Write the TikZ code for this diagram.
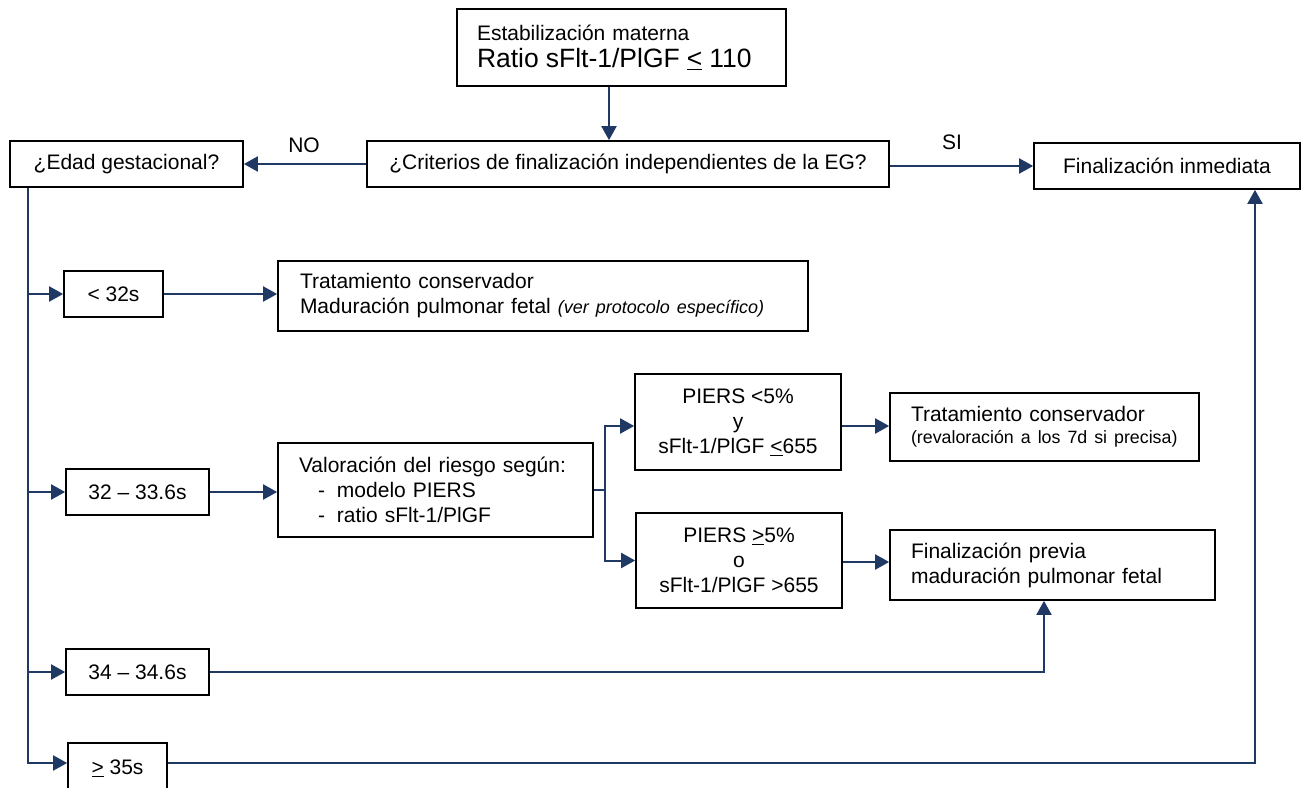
\documentclass[tikz,border=0pt]{standalone}
\usepackage{fontspec}
\setmainfont{Liberation Sans}
\usetikzlibrary{arrows.meta}
\definecolor{navy}{HTML}{1F3864}
\tikzset{
  box/.style={draw=black, line width=1.7pt, inner sep=0pt, align=center,
              font=\fontsize{21}{25}\selectfont},
  lbox/.style={box, align=left},
  conn/.style={draw=navy, line width=2pt},
  arr/.style={conn, -{Triangle[length=14pt,width=15pt]}},
  lbl/.style={inner sep=0pt, font=\fontsize{21}{25}\selectfont},
}
\begin{document}
\begin{tikzpicture}[x=1pt,y=-1pt]
\useasboundingbox (0,0) rectangle (1306,787);
\clip (0,0) rectangle (1306,787);

% nodes
\node[lbox, inner xsep=20pt, text width=289pt, minimum height=77pt] (top) at (621.5,47.5)
  {Estabilización materna\\[2pt]{\fontsize{26.5}{30}\selectfont Ratio sFlt-1/PlGF \underline{<} 110}};
\node[box, minimum width=522pt, minimum height=46pt] (crit) at (628,164)
  {¿Criterios de finalización independientes de la EG?};
\node[box, minimum width=233pt, minimum height=46pt] (edad) at (126.5,164)
  {¿Edad gestacional?};
\node[box, minimum width=266pt, minimum height=46pt] (finimm) at (1167,166)
  {Finalización inmediata};

\node[box, minimum width=99pt, minimum height=46pt] (lt32) at (113.5,294) {< 32s};
\node[lbox, inner xsep=22pt, text width=486pt, minimum height=70pt] (trat1) at (543,296)
  {Tratamiento conservador\\Maduración pulmonar fetal {\fontsize{18}{22}\selectfont\itshape (ver protocolo específico)}};

\node[box, minimum width=143pt, minimum height=46pt] (r3233) at (137.5,492) {32 – 33.6s};
\node[lbox, inner xsep=21pt, text width=273pt, minimum height=94pt] (val) at (435.5,490)
  {Valoración del riesgo según:\\
   \hspace*{19pt}\makebox[19pt][l]{-}modelo PIERS\\
   \hspace*{19pt}\makebox[19pt][l]{-}ratio sFlt-1/PlGF};

\node[box, minimum width=206pt, minimum height=96pt] (piers1) at (738,422)
  {PIERS <5\%\\y\\sFlt-1/PlGF \underline{<}655};
\node[box, minimum width=206pt, minimum height=95pt] (piers2) at (739,560.5)
  {PIERS \underline{>}5\%\\o\\sFlt-1/PlGF >655};

\node[lbox, inner xsep=21pt, text width=267pt, minimum height=68pt] (trat2) at (1044.5,427)
  {Tratamiento conservador\\[-3pt]\mbox{\fontsize{17.8}{22}\selectfont (revaloración a los 7d si precisa)}};
\node[lbox, inner xsep=21pt, text width=283pt, minimum height=70pt] (finprev) at (1052.5,565)
  {Finalización previa\\maduración pulmonar fetal};

\node[box, minimum width=143pt, minimum height=46pt] (r3434) at (137.5,672) {34 – 34.6s};
\node[box, minimum width=99pt, minimum height=50pt] (ge35) at (117.5,768) {\underline{>} 35s};

% labels
\node[lbl] (lblno) at (304,145) {NO};
\node[lbl] (lblsi) at (952,142) {SI};

% connectors
\draw[arr] ([xshift=-12.5pt]top.south) -- ([xshift=-12.5pt]top.south |- crit.north);
\draw[arr] (crit.west) -- (crit.west -| edad.east);
\draw[arr] ([yshift=-2pt]crit.east) -- ([yshift=-2pt]crit.east -| finimm.west);

\coordinate (trunk) at ([xshift=-98.5pt]edad.south);
\draw[arr] (trunk) |- ([yshift=5pt]ge35.west);
\draw[arr] (trunk |- lt32.west) -- (lt32.west);
\draw[arr] (trunk |- r3233.west) -- (r3233.west);
\draw[arr] (trunk |- r3434.west) -- (r3434.west);

\draw[arr] (lt32.east) -- (lt32.east -| trat1.west);
\draw[arr] (r3233.east) -- (r3233.east -| val.west);

\coordinate (br) at ([xshift=11pt]val.east);
\draw[conn] (val.east) -- (br);
\draw[arr] (br) |- ([yshift=-4pt]piers1.west);
\draw[arr] (br) |- (piers2.west);

\draw[arr] ([yshift=-4pt]piers1.east) -- ([yshift=-4pt]piers1.east -| trat2.west);
\draw[arr] ([yshift=-1.5pt]piers2.east) -- ([yshift=-1.5pt]piers2.east -| finprev.west);

\draw[arr] (r3434.east) -| ([xshift=-8.5pt]finprev.south);
\draw[arr] ([yshift=5pt]ge35.east) -| ([xshift=88pt]finimm.south);
\end{tikzpicture}
\end{document}
